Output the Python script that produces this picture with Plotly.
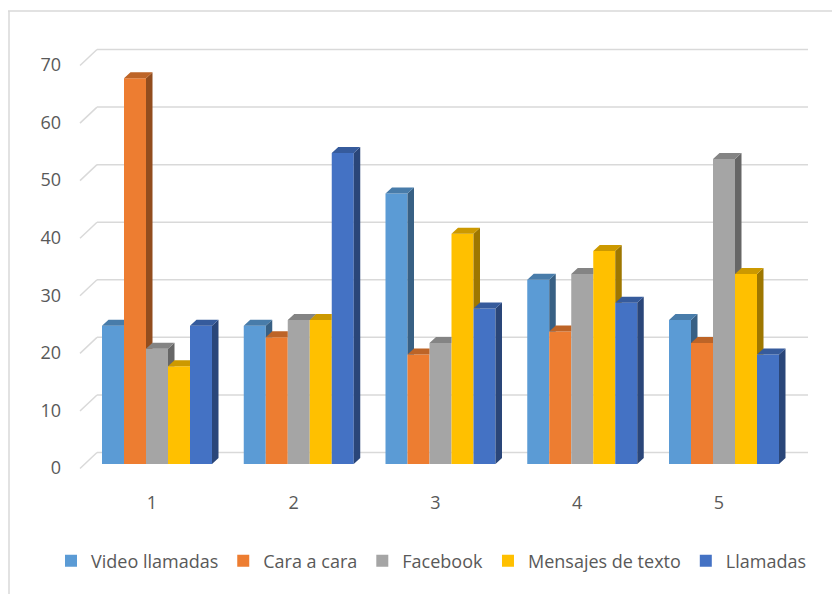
import plotly.graph_objects as go

# ---------------- data ----------------
categories = ["1", "2", "3", "4", "5"]
series_names = ["Video llamadas", "Cara a cara", "Facebook", "Mensajes de texto", "Llamadas"]
video_llamadas = [24, 24, 47, 32, 25]
cara_a_cara = [67, 22, 19, 23, 21]
facebook = [20, 25, 21, 33, 53]
mensajes_texto = [17, 25, 40, 37, 33]
llamadas = [24, 54, 27, 28, 19]
y_ticks = [0, 10, 20, 30, 40, 50, 60, 70]

series_values = [video_llamadas, cara_a_cara, facebook, mensajes_texto, llamadas]
colors = ["#5B9BD5", "#ED7D31", "#A5A5A5", "#FFC000", "#4472C4"]

# ---------------- geometry / style ----------------
W, H = 840, 594
PAGE_OFF = 8                          # default page margin around the figure
L_PX, R_PX, T_PX, B_PX = 77, 812, 40, 474   # plot area, in screen pixels
CAT1_PX, CAT_STEP = 152, 141.75      # pixel of category 1, pixels per category
ZERO_PX, VAL_STEP = 464, 5.757       # pixel of value 0, pixels per value unit
PLOT_W = R_PX - L_PX
PLOT_H = B_PX - T_PX

x_range = [1 + (L_PX - CAT1_PX) / CAT_STEP, 1 + (R_PX - CAT1_PX) / CAT_STEP]
y_range = [-(B_PX - ZERO_PX) / VAL_STEP, (ZERO_PX - T_PX) / VAL_STEP]

BAR_W = 22 / CAT_STEP
GROUP_SHIFT = 5 / CAT_STEP
DX = 6.5 / CAT_STEP
DY = 6 / VAL_STEP
n_series = len(series_values)


def shade(hex_color, f):
    h = hex_color.lstrip("#")
    r, g, b = (int(h[i:i + 2], 16) for i in (0, 2, 4))
    return "rgb(%d,%d,%d)" % (int(r * f), int(g * f), int(b * f))


def clip_above(poly, ymin):
    """Keep the part of a polygon with y >= ymin (Sutherland-Hodgman)."""
    out = []
    n = len(poly)
    for k in range(n):
        cx, cy = poly[k]
        px, py = poly[k - 1]
        cin, pin = cy >= ymin, py >= ymin
        if cin:
            if not pin:
                t = (ymin - py) / (cy - py)
                out.append((px + t * (cx - px), ymin))
            out.append((cx, cy))
        elif pin:
            t = (ymin - py) / (cy - py)
            out.append((px + t * (cx - px), ymin))
    return out


def add_poly(xs, ys, poly):
    if len(poly) < 3:
        return
    for (a, b) in poly + [poly[0]]:
        xs.append(a)
        ys.append(b)
    xs.append(None)
    ys.append(None)


fig = go.Figure()
x_pos = [i + 1 for i in range(len(categories))]

# front faces (bars)
for i, (name, vals) in enumerate(zip(series_names, series_values)):
    off = GROUP_SHIFT - n_series / 2 * BAR_W + i * BAR_W
    fig.add_trace(go.Bar(
        x=x_pos, y=vals, name=name, offset=off, width=BAR_W,
        marker=dict(color=colors[i], line=dict(width=0)),
        hoverinfo="skip",
    ))

# 3D side and top faces
for i, vals in enumerate(series_values):
    off = GROUP_SHIFT - n_series / 2 * BAR_W + i * BAR_W
    sx, sy, tx, ty = [], [], [], []
    for g, h in enumerate(vals):
        xl = x_pos[g] + off
        xr = xl + BAR_W
        h_next = series_values[i + 1][g] if i + 1 < n_series else -1e9
        side = [(xr, 0), (xr + DX, DY), (xr + DX, h + DY), (xr, h)]
        add_poly(sx, sy, clip_above(side, h_next))
        top_left = [(xl, h), (xr, h), (xr, h + DY), (xl + DX, h + DY)]
        top_right = [(xr, h), (xr + DX, h + DY), (xr, h + DY)]
        add_poly(tx, ty, top_left)
        add_poly(tx, ty, clip_above(top_right, h_next))
    fig.add_trace(go.Scatter(x=sx, y=sy, mode="lines", fill="toself",
                             fillcolor=shade(colors[i], 0.62), line=dict(width=0),
                             showlegend=False, hoverinfo="skip"))
    fig.add_trace(go.Scatter(x=tx, y=ty, mode="lines", fill="toself",
                             fillcolor=shade(colors[i], 0.80), line=dict(width=0),
                             showlegend=False, hoverinfo="skip"))

# gridlines: left side wall diagonals + back wall horizontals
GRID = "#D9D9D9"
shapes = []
for v in y_ticks:
    common = dict(type="line", xref="paper", xsizemode="pixel", xanchor=0,
                  yref="y", ysizemode="pixel", yanchor=v, layer="below",
                  line=dict(color=GRID, width=1.5))
    shapes.append(dict(common, x0=80 - L_PX, x1=97 - L_PX, y0=-4.5, y1=11.5))
    shapes.append(dict(common, x0=97 - L_PX, x1=808 - L_PX, y0=11.5, y1=11.5))


def px_to_paper_x(px):
    return (px - L_PX) / PLOT_W


def px_to_paper_y(py):
    return (B_PX - py) / PLOT_H


# chart-area border (top and left)
shapes.append(dict(type="line", xref="paper", yref="paper",
                   x0=px_to_paper_x(0), x1=px_to_paper_x(W + PAGE_OFF),
                   y0=px_to_paper_y(11), y1=px_to_paper_y(11),
                   line=dict(color=GRID, width=1.5)))
shapes.append(dict(type="line", xref="paper", yref="paper",
                   x0=px_to_paper_x(9), x1=px_to_paper_x(9),
                   y0=px_to_paper_y(11), y1=px_to_paper_y(H + PAGE_OFF),
                   line=dict(color=GRID, width=1.5)))

FONT = dict(family="Open Sans, Liberation Sans, sans-serif", size=18, color="#595959")

fig.update_layout(
    width=W, height=H,
    margin=dict(l=L_PX - PAGE_OFF, r=W - (R_PX - PAGE_OFF), t=T_PX - PAGE_OFF,
                b=H - (B_PX - PAGE_OFF), pad=0, autoexpand=False),
    paper_bgcolor="white", plot_bgcolor="rgba(0,0,0,0)",
    barmode="overlay",
    font=FONT,
    shapes=shapes,
    showlegend=True,
    legend=dict(orientation="h", x=px_to_paper_x(51), xanchor="left",
                y=px_to_paper_y(561), yanchor="middle", font=FONT,
                bgcolor="rgba(0,0,0,0)", traceorder="normal"),
    xaxis=dict(range=x_range, tickvals=x_pos, ticktext=categories, showgrid=False,
               zeroline=False, showline=False, ticks="", ticklabelstandoff=16,
               tickfont=FONT, fixedrange=True, automargin=False),
    yaxis=dict(range=y_range, tickvals=y_ticks, showgrid=False, zeroline=False,
               showline=False, ticks="", ticklabelstandoff=15, ticklabelshift=4,
               tickfont=FONT, fixedrange=True, automargin=False),
)

fig.write_html("out.html")
